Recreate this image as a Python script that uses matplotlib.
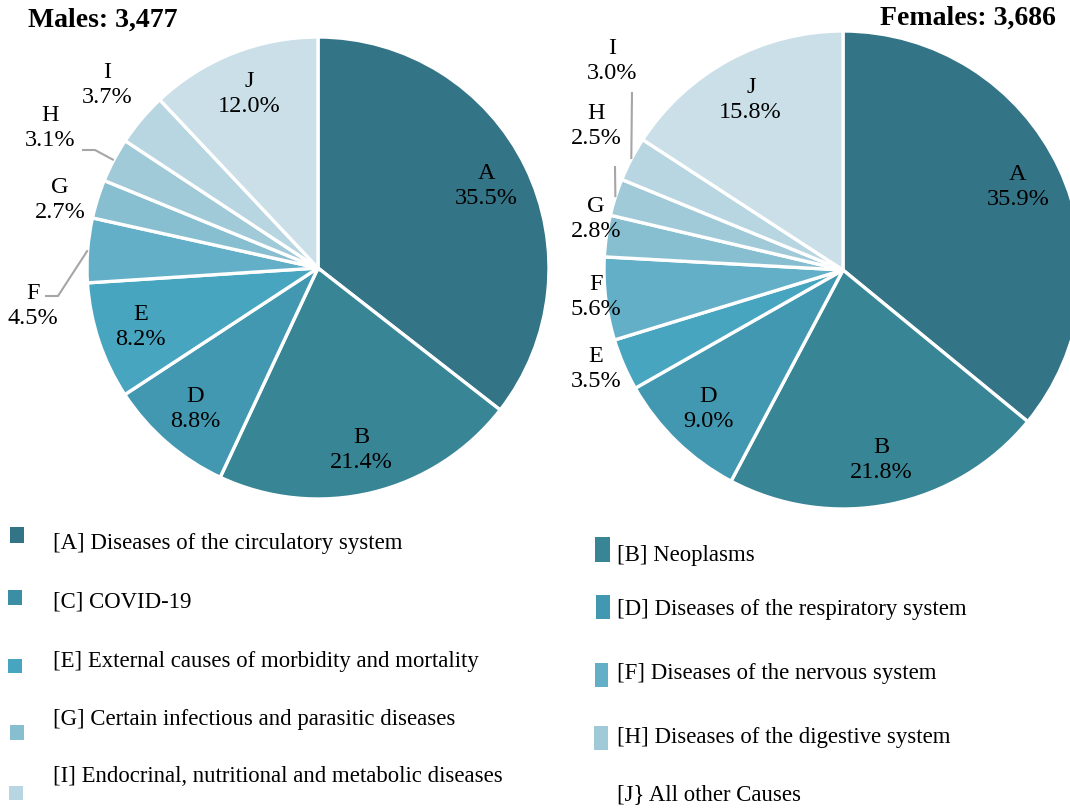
import matplotlib
matplotlib.use("Agg")
import matplotlib.pyplot as plt
import numpy as np
from matplotlib.patches import Rectangle

plt.rcParams["font.family"] = ["Liberation Serif", "DejaVu Serif"]

# Share of deaths by cause group (%), in drawing order clockwise from 12 o'clock.
codes = ["A", "B", "D", "E", "F", "G", "H", "I", "J"]
male_pct = [35.5, 21.4, 8.8, 8.2, 4.5, 2.7, 3.1, 3.7, 12.0]
female_pct = [35.9, 21.8, 9.0, 3.5, 5.6, 2.8, 2.5, 3.0, 15.8]
male_total = "3,477"
female_total = "3,686"

colors = {
    "A": "#337487", "B": "#388596", "C": "#3b8ea4", "D": "#4298b0",
    "E": "#48a5bf", "F": "#63afc8", "G": "#87bfd1", "H": "#a1cad9",
    "I": "#b8d6e1", "J": "#cadfe8",
}

legend_left = [
    ("A", "[A] Diseases of the circulatory system"),
    ("C", "[C] COVID-19"),
    ("E", "[E] External causes of morbidity and mortality"),
    ("G", "[G] Certain infectious and parasitic diseases"),
    ("I", "[I] Endocrinal, nutritional and metabolic diseases"),
]
legend_right = [
    ("B", "[B] Neoplasms"),
    ("D", "[D] Diseases of the respiratory system"),
    ("F", "[F] Diseases of the nervous system"),
    ("H", "[H] Diseases of the digestive system"),
    (None, "[J} All other Causes"),
]

W, H = 1070, 811
fig = plt.figure(figsize=(W / 100, H / 100), dpi=100)
ax = fig.add_axes([0, 0, 1, 1])


def py(y):
    """Flip a top-down pixel row into axes coordinates."""
    return H - y


def draw_pie(values, cx, cy, r, outside, leaders):
    wedges, _ = ax.pie(values, colors=[colors[c] for c in codes],
                       startangle=90, counterclock=False,
                       center=(cx, py(cy)), radius=r,
                       wedgeprops=dict(edgecolor="white", linewidth=2.4))
    for code, val, w in zip(codes, values, wedges):
        mid = np.deg2rad((w.theta1 + w.theta2) / 2)
        text = f"{code}\n{val:.1f}%"
        if code in outside:
            tx, ty = outside[code]
            ax.text(tx, py(ty), text, ha="center", va="center", fontsize=17.5,
                    linespacing=1.25)
        else:
            ax.text(cx + 0.81 * r * np.cos(mid), py(cy) + 0.81 * r * np.sin(mid),
                    text, ha="center", va="center", fontsize=17.5, linespacing=1.25)
        if code in leaders:
            xs = [cx + r * np.cos(mid)] + [p[0] for p in leaders[code]]
            ys = [py(cy) + r * np.sin(mid)] + [py(p[1]) for p in leaders[code]]
            ax.plot(xs, ys, color="#a6a6a6", lw=1.5, solid_capstyle="butt")


draw_pie(male_pct, 318, 268, 231,
         outside={"F": (33, 306), "G": (60, 200), "H": (50, 128), "I": (107, 85)},
         leaders={"F": [(58, 296), (45, 296)], "H": [(95, 150), (82, 150)]})
draw_pie(female_pct, 843, 270, 239,
         outside={"E": (596, 369), "F": (596, 297), "G": (596, 219),
                  "H": (596, 126), "I": (612, 61)},
         leaders={"H": [(615, 166)], "I": [(632, 92)]})

ax.text(28, py(20), f"Males: {male_total}", ha="left", va="center",
        fontsize=20, fontweight="bold")
ax.text(1056, py(18), f"Females: {female_total}", ha="right", va="center",
        fontsize=20, fontweight="bold")

# Legend, two columns of colour keys
left_marks = [(10, 527, 14, 16), (8, 590, 14, 15), (8, 659, 14, 14),
              (10, 725, 14, 15), (9, 786, 14, 14)]
left_text_y = [544, 602, 661, 719, 777]
for (code, label), (mx, my, mw, mh), ty in zip(legend_left, left_marks, left_text_y):
    ax.add_patch(Rectangle((mx, py(my + mh)), mw, mh, color=colors[code], lw=0))
    ax.text(53, py(ty), label, ha="left", va="center", fontsize=16.4)

right_marks = [(595, 537, 15, 25), (596, 595, 14, 24), (595, 663, 13, 24),
               (594, 726, 14, 24), None]
right_text_y = [555, 610, 673, 737, 795]
for (code, label), mark, ty in zip(legend_right, right_marks, right_text_y):
    if code is not None:
        mx, my, mw, mh = mark
        ax.add_patch(Rectangle((mx, py(my + mh)), mw, mh, color=colors[code], lw=0))
    ax.text(617, py(ty), label, ha="left", va="center", fontsize=16.4)

ax.set_xlim(0, W)
ax.set_ylim(0, H)
ax.set_aspect("equal")
ax.axis("off")
fig.savefig("out.png", dpi=100)
